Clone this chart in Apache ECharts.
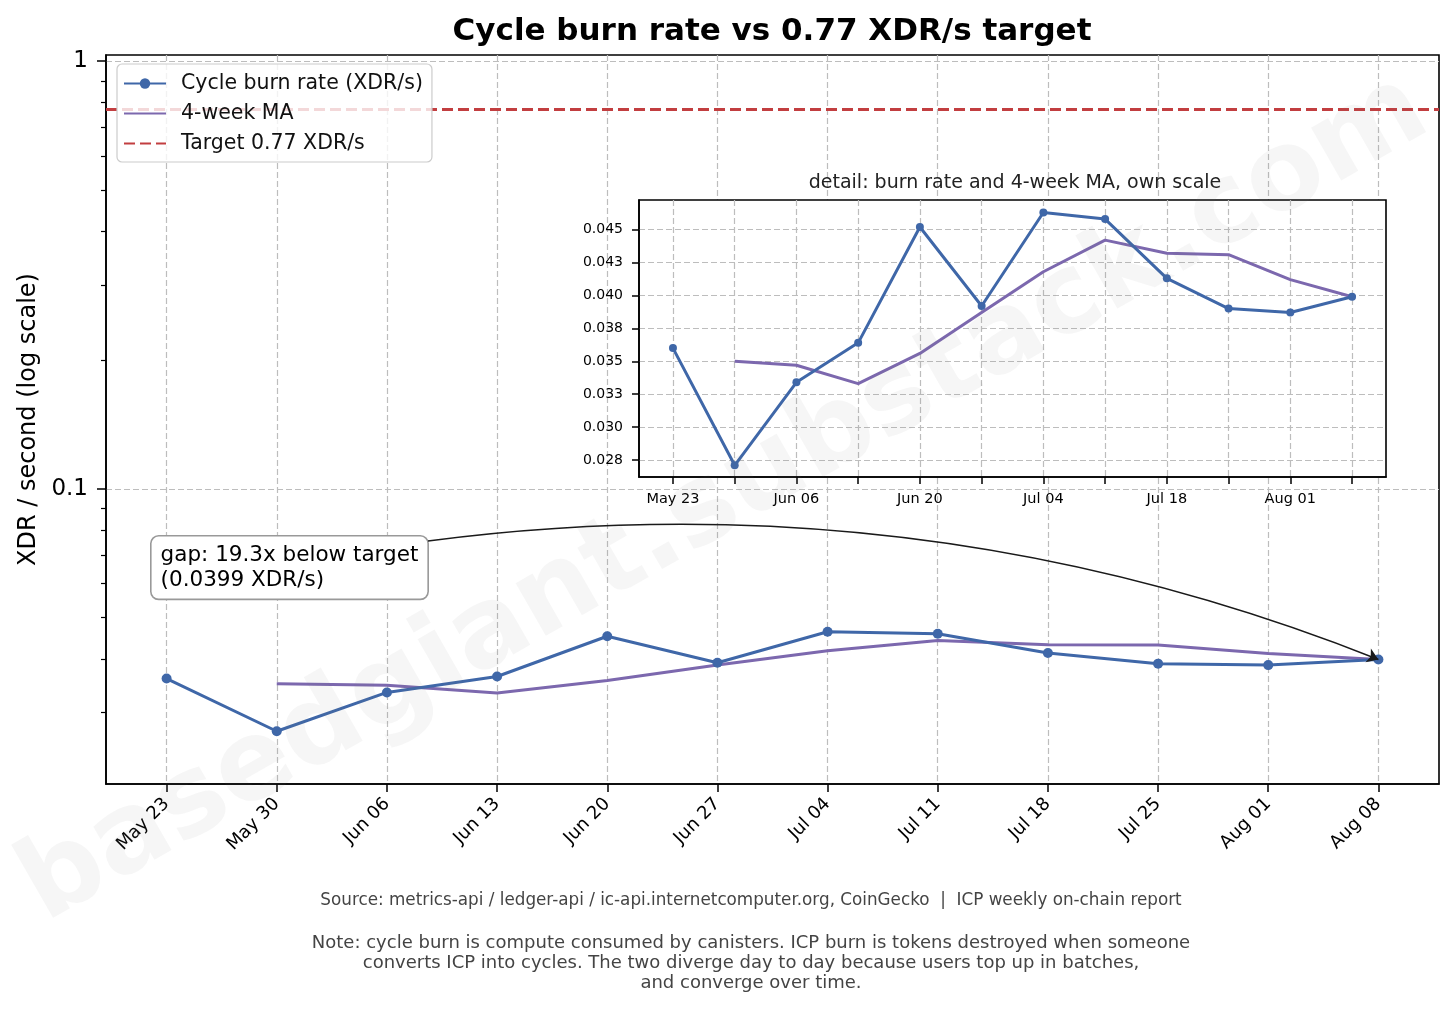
<!DOCTYPE html>
<html>
<head>
<meta charset="utf-8">
<title>Cycle burn rate vs 0.77 XDR/s target</title>
<script src="https://cdn.jsdelivr.net/npm/echarts@6/dist/echarts.min.js"></script>
<style>
  html, body { margin: 0; padding: 0; background: #fff; }
  #chart { width: 1456px; height: 1009px; }
</style>
</head>
<body>
<div id="chart"></div>
<script>
const weeks = ["May 23", "May 30", "Jun 06", "Jun 13", "Jun 20", "Jun 27",
  "Jul 04", "Jul 11", "Jul 18", "Jul 25", "Aug 01", "Aug 08"];
const burnRate = [0.0360, 0.0271, 0.0334, 0.0364, 0.0452, 0.0392,
  0.0463, 0.0458, 0.0413, 0.0390, 0.0387, 0.0399];
const ma4w = [null, 0.0350, 0.0347, 0.0333, 0.0356, 0.0387,
  0.0418, 0.0442, 0.0432, 0.0431, 0.0412, 0.0399];
const target = 0.77;

const mainTickValues = [0.1, 1];
const mainTickLabels = ["0.1", "1"];
const minorTickValues = [0.03, 0.04, 0.05, 0.06, 0.07, 0.08, 0.09,
  0.2, 0.3, 0.4, 0.5, 0.6, 0.7, 0.8, 0.9];
const insetTickValues = [0.0275, 0.03, 0.0325, 0.035, 0.0375, 0.04, 0.0425, 0.045];
const insetTickLabels = ["0.028", "0.030", "0.033", "0.035", "0.038", "0.040", "0.043", "0.045"];
const insetLabelIdx = [0, 2, 4, 6, 8, 10];

const FONT = "DejaVu Sans";
const BLUE = "#3f67a8";
const PURPLE = "#7c68ae";
const RED = "#c23e40";
const GRID_LINE = { show: true, lineStyle: { color: "#bdbdbd", width: 1.2, type: [6, 3] } };
const NO_MARKER = { opacity: 0, color: "transparent", borderWidth: 0 };

const weekIdx = weeks.map((_, i) => i);
const pairs = (values) => values.map((v, i) => [i, v]);

function labelFor(values, labels) {
  return (v) => {
    const i = values.findIndex((t) => Math.abs(t - v) / t < 1e-6);
    return i >= 0 ? labels[i] : "";
  };
}

const lastIdx = burnRate.length - 1;
const lastRate = burnRate[lastIdx];
const gapText = `gap: ${(target / lastRate).toFixed(1)}x below target\n(${lastRate.toFixed(4)} XDR/s)`;

const chart = echarts.init(document.querySelector("#chart"));

const option = {
  animation: false,
  backgroundColor: "#fff",
  textStyle: { fontFamily: FONT },
  title: [
    {
      text: "Cycle burn rate vs 0.77 XDR/s target",
      left: 767, top: 11, textAlign: "center",
      textStyle: { fontFamily: FONT, fontSize: 31, fontWeight: "bold", color: "#000" },
    },
    {
      text: "detail: burn rate and 4-week MA, own scale",
      left: 1010, top: 169, textAlign: "center",
      textStyle: { fontFamily: FONT, fontSize: 19, fontWeight: "normal", color: "#222" },
    },
  ],
  legend: {
    left: 117, top: 64,
    orient: "vertical",
    data: [
      { name: "Cycle burn rate (XDR/s)" },
      { name: "4-week MA", itemStyle: NO_MARKER },
      { name: "Target 0.77 XDR/s", itemStyle: NO_MARKER },
    ],
    itemWidth: 42, itemHeight: 13, itemGap: 9,
    padding: [9, 9, 8, 6],
    backgroundColor: "rgba(255,255,255,0.8)",
    borderColor: "#cccccc", borderWidth: 1.2, borderRadius: 5,
    textStyle: { fontFamily: FONT, fontSize: 20.5, color: "#111", padding: [0, 0, 0, 10] },
    z: 10,
  },
  grid: [
    { left: 106, top: 55, width: 1333, height: 729, show: true, borderColor: "#000", borderWidth: 1.6 },
    { left: 639, top: 200, width: 747, height: 277, show: true, backgroundColor: "#fff",
      borderColor: "#000", borderWidth: 1.6, z: 3 },
  ],
  xAxis: [
    {
      type: "value", gridIndex: 0, min: -0.55, max: 11.55,
      axisLine: { onZero: false, lineStyle: { color: "#000", width: 1.6 } },
      axisTick: { customValues: weekIdx, length: 8, lineStyle: { color: "#000", width: 1.5 } },
      axisLabel: {
        customValues: weekIdx, rotate: 45, margin: 17,
        fontFamily: FONT, fontSize: 18, color: "#000",
        formatter: (v) => weeks[Math.round(v)],
      },
      splitLine: GRID_LINE,
    },
    {
      type: "value", gridIndex: 1, min: -0.55, max: 11.55, z: 3,
      axisLine: { onZero: false, lineStyle: { color: "#000", width: 1.6 } },
      axisTick: { customValues: weekIdx, length: 7, lineStyle: { color: "#000", width: 1.5 } },
      axisLabel: {
        customValues: insetLabelIdx, margin: 15,
        fontFamily: FONT, fontSize: 14.5, color: "#000",
        formatter: (v) => weeks[Math.round(v)],
      },
      splitLine: GRID_LINE,
    },
  ],
  yAxis: [
    {
      type: "log", logBase: 10, gridIndex: 0, position: "left",
      min: 0.0204, max: 1.034,
      name: "XDR / second (log scale)", nameLocation: "middle", nameGap: 64,
      nameTextStyle: { fontFamily: FONT, fontSize: 24, color: "#000" },
      axisLine: { show: true, onZero: false, lineStyle: { color: "#000", width: 1.6 } },
      axisTick: { customValues: mainTickValues, length: 9, lineStyle: { color: "#000", width: 1.5 } },
      axisLabel: {
        customValues: mainTickValues, margin: 18,
        fontFamily: FONT, fontSize: 23, color: "#000",
        formatter: labelFor(mainTickValues, mainTickLabels),
      },
      splitLine: GRID_LINE,
    },
    {
      type: "log", logBase: 10, gridIndex: 0, position: "left",
      min: 0.0204, max: 1.034,
      axisLine: { show: false, onZero: false },
      axisTick: { customValues: minorTickValues, length: 5, lineStyle: { color: "#000", width: 1.2 } },
      axisLabel: { show: false },
      splitLine: { show: false },
    },
    {
      type: "value", gridIndex: 1, min: 0.02621, max: 0.04725, z: 3,
      axisLine: { show: true, onZero: false, lineStyle: { color: "#000", width: 1.6 } },
      axisTick: { customValues: insetTickValues, length: 7, lineStyle: { color: "#000", width: 1.5 } },
      axisLabel: {
        customValues: insetTickValues, margin: 16,
        fontFamily: FONT, fontSize: 14, color: "#000",
        formatter: labelFor(insetTickValues, insetTickLabels),
      },
      splitLine: GRID_LINE,
    },
  ],
  series: [
    {
      name: "Cycle burn rate (XDR/s)", type: "line",
      xAxisIndex: 0, yAxisIndex: 0, z: 3,
      data: pairs(burnRate),
      symbol: "circle", symbolSize: 10, showAllSymbol: true,
      itemStyle: { color: BLUE },
      lineStyle: { color: BLUE, width: 3 },
    },
    {
      name: "4-week MA", type: "line",
      xAxisIndex: 0, yAxisIndex: 0, z: 2,
      data: pairs(ma4w),
      symbol: "none",
      itemStyle: { color: PURPLE },
      lineStyle: { color: PURPLE, width: 3 },
    },
    {
      name: "Target 0.77 XDR/s", type: "line",
      xAxisIndex: 0, yAxisIndex: 0,
      data: [],
      symbol: "none",
      itemStyle: { color: RED },
      lineStyle: { color: RED, width: 3, type: [11, 5] },
      markLine: {
        silent: true, symbol: "none",
        label: { show: false },
        lineStyle: { color: RED, width: 3, type: [11, 5] },
        data: [{ yAxis: target }],
      },
    },
    {
      name: "Cycle burn rate (XDR/s)", type: "line",
      xAxisIndex: 1, yAxisIndex: 2, z: 6,
      data: pairs(burnRate),
      symbol: "circle", symbolSize: 8, showAllSymbol: true,
      itemStyle: { color: BLUE },
      lineStyle: { color: BLUE, width: 3 },
    },
    {
      name: "4-week MA", type: "line",
      xAxisIndex: 1, yAxisIndex: 2, z: 5,
      data: pairs(ma4w),
      symbol: "none",
      itemStyle: { color: PURPLE },
      lineStyle: { color: PURPLE, width: 3 },
    },
  ],
  graphic: [
    {
      type: "text", left: 150, top: 535, z: 20,
      style: {
        text: gapText,
        font: `21.5px "${FONT}"`,
        fill: "#000",
        lineHeight: 25,
        backgroundColor: "#fff",
        borderColor: "#999",
        borderWidth: 1.6,
        borderRadius: 7,
        padding: [6, 9, 6, 9],
      },
    },
    {
      type: "text", x: 751, y: 901, z: 20,
      style: {
        text: "Source: metrics-api / ledger-api / ic-api.internetcomputer.org, CoinGecko  |  ICP weekly on-chain report",
        font: `16.8px "${FONT}"`, fill: "#444",
        align: "center", verticalAlign: "middle",
        textAlign: "center", textVerticalAlign: "middle",
      },
    },
    {
      type: "text", x: 751, y: 963, z: 20,
      style: {
        text: "Note: cycle burn is compute consumed by canisters. ICP burn is tokens destroyed when someone\n" +
          "converts ICP into cycles. The two diverge day to day because users top up in batches,\n" +
          "and converge over time.",
        font: `18px "${FONT}"`, fill: "#444", lineHeight: 20,
        align: "center", verticalAlign: "middle",
        textAlign: "center", textVerticalAlign: "middle",
      },
    },
    {
      type: "text", x: 725, y: 500, rotation: 0.52, z: 30, silent: true,
      style: {
        text: "basedgiant.substack.com",
        font: `bold 111px "${FONT}"`, fill: "rgba(120,120,120,0.065)",
        align: "center", verticalAlign: "middle",
        textAlign: "center", textVerticalAlign: "middle",
      },
    },
  ],
};

chart.setOption(option);

// curved annotation arrow from the note box to the latest point
const noteStart = chart.convertFromPixel({ seriesIndex: 0 }, [428, 541]);
option.series.push({
  type: "lines", coordinateSystem: "cartesian2d",
  xAxisIndex: 0, yAxisIndex: 0, z: 20, silent: true,
  symbol: ["none", "arrow"], symbolSize: 11,
  lineStyle: { color: "#1a1a1a", width: 1.6, opacity: 1, curveness: 0.13 },
  data: [{ coords: [noteStart, [lastIdx, lastRate]] }],
});
chart.setOption(option);
</script>
</body>
</html>
